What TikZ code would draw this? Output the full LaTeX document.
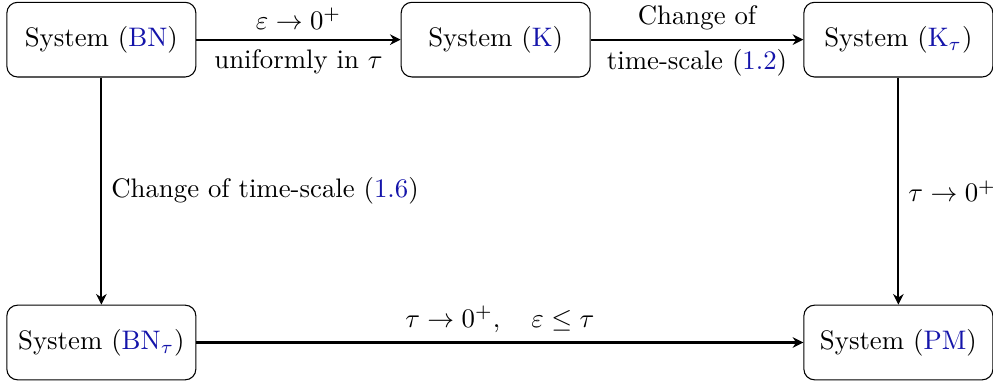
\documentclass[tikz,border=0pt]{standalone}
\usepackage{amsmath}
\usepackage{tikz}
\usetikzlibrary{positioning,arrows.meta}
\usepackage{xcolor}
\definecolor{refblue}{RGB}{20,20,170}
\newcommand{\rf}[1]{\textcolor{refblue}{#1}}

\begin{document}
\begin{tikzpicture}[
  sys/.style={draw, rounded corners, minimum width=2.48cm, minimum height=0.98cm, align=center},
  arrow/.style={-{Stealth[length=1.4mm, width=1.4mm]}, thick}
]
\useasboundingbox (0,0) rectangle (13.03,-5.02);
\node[sys] (bn) at (1.33,-0.52) {System (\rf{BN})};
\node[sys, right=2.68cm of bn] (k) {System (\rf{K})};
\node[sys, right=2.79cm of k] (kt) {System (\rf{K$_\tau$})};
\node[sys, below=2.98cm of bn] (bnt) {System (\rf{BN$_\tau$})};
\node[sys, below=2.98cm of kt] (pm) {System (\rf{PM})};

\draw[arrow] (bn) -- node[above] {$\varepsilon \to 0^+$} node[below] {uniformly in $\tau$} (k);
\draw[arrow] (k) -- node[above] {Change of} node[below] {time-scale (\rf{1.2})} (kt);
\draw[arrow] (bn) -- node[right] {Change of time-scale (\rf{1.6})} (bnt);
\draw[arrow] (kt) -- node[right] {$\tau \to 0^+$} (pm);
\draw[arrow] (bnt) -- node[above] {$\tau \to 0^+, \quad \varepsilon \leq \tau$} (pm);
\end{tikzpicture}
\end{document}
